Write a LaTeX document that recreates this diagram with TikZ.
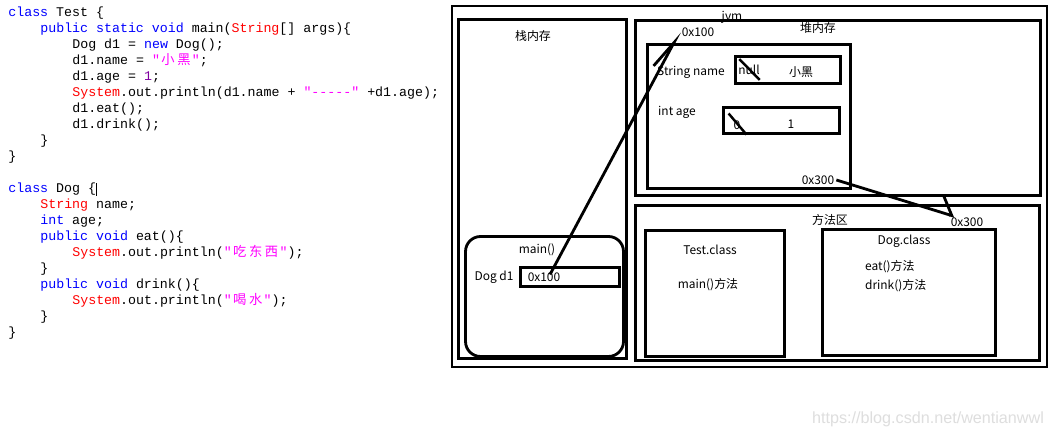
\documentclass[tikz,border=0pt]{standalone}
\usepackage{fontspec}
\setmonofont{Liberation Mono}
\newfontfamily\cjkfont{Noto Sans CJK SC}
\newfontfamily\markfont{Liberation Sans}
\usetikzlibrary{arrows.meta,positioning,calc}
\definecolor{codeBlue}{RGB}{0, 0, 255}
\definecolor{codeRed}{RGB}{255, 0, 0}
\definecolor{codeMagenta}{RGB}{255, 0, 255}
\definecolor{codePurple}{RGB}{128, 0, 160}
\newcommand{\kw}[1]{\textcolor{codeBlue}{#1}}
\newcommand{\typ}[1]{\textcolor{codeRed}{#1}}
\newcommand{\lit}[1]{\textcolor{codeMagenta}{#1}}
\newcommand{\numlit}[1]{\textcolor{codePurple}{#1}}
\newcommand{\zh}[1]{\makebox[9.07pt]{\cjkfont #1}}

\begin{document}
\begin{tikzpicture}[
  x=0.02cm, y=-0.02cm,
  codeline/.style={anchor=base west,inner sep=0pt,font=\ttfamily\fontsize{7.56}{9}\selectfont},
  membox/.style={draw,line width=1.6pt,inner sep=0pt},
  lbl/.style={inner sep=1pt,font=\cjkfont\fontsize{6.8}{8}\selectfont},
  pointer/.style={line width=1.6pt},
  strike/.style={line width=1.4pt}
]
  \path[use as bounding box,fill=white] (0,0) rectangle (1052,438);

  % source code
  \foreach \ind/\txt [count=\k] in {
    0/{\kw{class} Test \{},
    1/{\kw{public} \kw{static} \kw{void} main(\typ{String}[] args)\{},
    2/{Dog d1 = \kw{new} Dog();},
    2/{d1.name = \lit{"\zh{小}\zh{黑}"};},
    2/{d1.age = \numlit{1};},
    2/{\typ{System}.out.println(d1.name + \lit{"-----"} +d1.age);},
    2/{d1.eat();},
    2/{d1.drink();},
    1/{\}},
    0/{\}}}
    \node[codeline] (test\k) at ({8+32*\ind},{17+16*(\k-1)}) {\txt};
  \foreach \ind/\txt [count=\k] in {
    0/{\kw{class} Dog \{},
    1/{\typ{String} name;},
    1/{\kw{int} age;},
    1/{\kw{public} \kw{void} eat()\{},
    2/{\typ{System}.out.println(\lit{"\zh{吃}\zh{东}\zh{西}"});},
    1/{\}},
    1/{\kw{public} \kw{void} drink()\{},
    2/{\typ{System}.out.println(\lit{"\zh{喝}\zh{水}"});},
    1/{\}},
    0/{\}}}
    \node[codeline] (dog\k) at ({8+32*\ind},{193+16*(\k-1)}) {\txt};
  \draw[line width=1pt] (dog1.north east) -- (dog1.south east);

  % memory boxes
  \node[membox,line width=1.3pt,minimum width=11.90cm,minimum height=7.22cm] (jvm) at (749.5,186.5) {};
  \node[membox,minimum width=3.36cm,minimum height=6.78cm] (stack) at (542.5,189) {};
  \node[membox,minimum width=8.10cm,minimum height=3.50cm] (heap) at (838,108) {};
  \node[membox,minimum width=4.06cm,minimum height=2.88cm] (dogobj) at (749,116.5) {};
  \node[membox,minimum width=2.10cm,minimum height=0.54cm] (namebox) at (788,70) {};
  \node[membox,minimum width=2.32cm,minimum height=0.52cm] (agebox) at (781.5,120.5) {};
  \node[membox,minimum width=8.08cm,minimum height=3.10cm] (method) at (837.5,283) {};
  \node[membox,minimum width=2.78cm,minimum height=2.52cm] (testbox) at (715,293.5) {};
  \node[membox,minimum width=3.46cm,minimum height=2.52cm] (dogbox) at (909,292.5) {};
  \node[membox,rounded corners=0.3cm,minimum width=3.16cm,minimum height=2.40cm] (mainframe) at (544.5,296.5) {};
  \node[membox,minimum width=1.98cm,minimum height=0.38cm] (d1box) at (570,277) {};

  % labels
  \node[lbl] (jvmlbl) at (732,17) {jvm};
  \node[lbl] (stacklbl) at (533,36) {栈内存};
  \node[lbl] (heaplbl) at (818,28) {堆内存};
  \node[lbl] (addr100) at (698,32) {0x100};
  \node[lbl] (namelbl) at (691,72) {String name};
  \node[lbl] (nullval) at (749,70) {null};
  \node[lbl] (namenew) at (801,72) {小黑};
  \node[lbl] (agelbl) at (677,112) {int age};
  \node[lbl] (zeroval) at (737,125) {0};
  \node[lbl] (onenew) at (791,124) {1};
  \node[lbl] (objaddr) at (818,180) {0x300};
  \node[lbl] (methlbl) at (830,220) {方法区};
  \node[lbl] (clsaddr) at (967,222) {0x300};
  \node[lbl] (testcls) at (710,250) {Test.class};
  \node[lbl] (mainmeth) at (708,285) {main()方法};
  \node[lbl] (dogcls) at (904,241) {Dog.class};
  \node[lbl,anchor=west] (eatmeth) at (863,267) {eat()方法};
  \node[lbl,anchor=west] (drinkmeth) at (863,286) {drink()方法};
  \node[lbl] (mainlbl) at (537,250) {main()};
  \node[lbl] (doglbl) at (494,277) {Dog d1};
  \node[lbl] (d1val) at (544,277) {0x100};

  % crossed-out old values
  \draw[strike] ($(nullval.north west)+(3,-4)$) -- ($(nullval.south east)+(-2,3)$);
  \draw[strike] ($(zeroval.north west)+(-3,-5)$) -- ($(zeroval.south east)+(4,3)$);

  % references
  \draw[pointer,-{Straight Barb[left,length=0.6cm,width=0.28cm]}] ($(d1val.north)+(6,4)$) -- (addr100.west);
  \draw[pointer,-{Straight Barb[left,length=0.28cm,width=0.68cm]}] (objaddr.east) -- ($(clsaddr.north west)+(6,1)$);

  \node[font=\markfont\fontsize{9.2}{10}\selectfont,text=black!13] (watermark) at (928,419) {https://blog.csdn.net/wentianwwl};
\end{tikzpicture}
\end{document}
